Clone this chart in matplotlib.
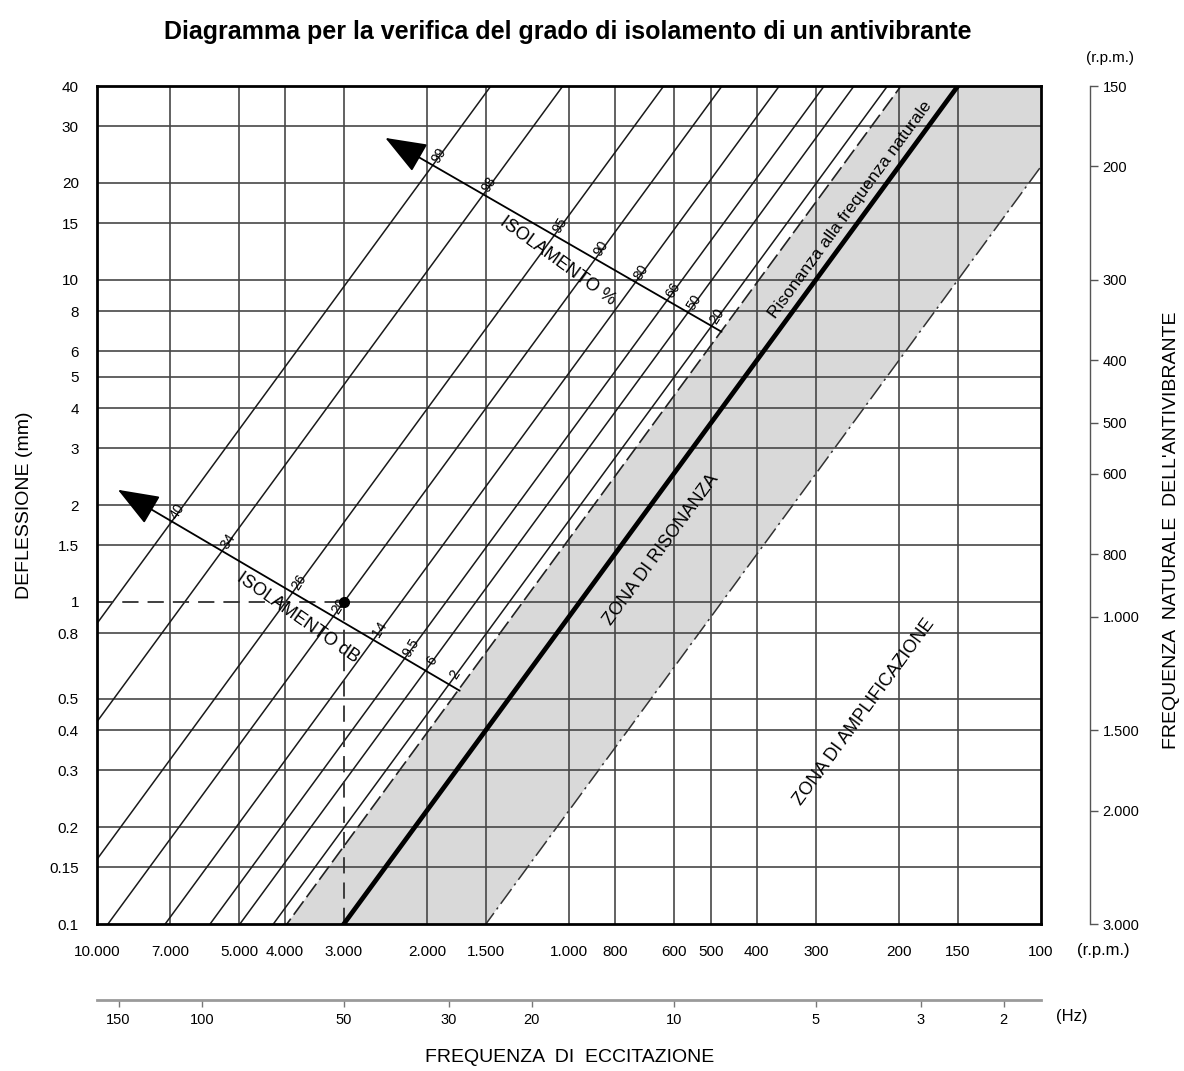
import numpy as np
import matplotlib
matplotlib.use('Agg')
import matplotlib.pyplot as plt

plt.rcParams['font.family'] = ['Liberation Sans Narrow', 'Liberation Sans', 'DejaVu Sans']

# excitation frequency (rpm), axis runs from high to low
rpm_lim = [10000, 100]
rpm_ticks = [10000, 7000, 5000, 4000, 3000, 2000, 1500, 1000, 800, 600, 500, 400, 300, 200, 150, 100]
rpm_labels = ['10.000', '7.000', '5.000', '4.000', '3.000', '2.000', '1.500', '1.000',
              '800', '600', '500', '400', '300', '200', '150', '100']
hz_ticks = [150, 100, 50, 30, 20, 10, 5, 3, 2]

# static deflection (mm)
defl_lim = [0.1, 40]
defl_ticks = [0.1, 0.15, 0.2, 0.3, 0.4, 0.5, 0.8, 1, 1.5, 2, 3, 4, 5, 6, 8, 10, 15, 20, 30, 40]
defl_labels = ['0.1', '0.15', '0.2', '0.3', '0.4', '0.5', '0.8', '1', '1.5', '2', '3', '4',
               '5', '6', '8', '10', '15', '20', '30', '40']

# natural frequency of the mount (rpm), bottom -> top
nat_lim = [3000, 150]
nat_ticks = [150, 200, 300, 400, 500, 600, 800, 1000, 1500, 2000, 3000]
nat_labels = ['150', '200', '300', '400', '500', '600', '800', '1.000', '1.500', '2.000', '3.000']

# ratio f / fn of each isolation line, with its two labels
iso_ratio = [9.76, 6.87, 4.20, 3.16, 2.39, 1.92, 1.66, 1.41]
iso_pct = ['99', '98', '95', '90', '80', '66', '50', '20']
iso_db = ['40', '34', '26', '20', '14', '9.5', '6', '2']
zone_lo_ratio = 1.32   # dashed edge of the resonance zone
zone_hi_ratio = 0.5    # dash-dot edge (amplification side)

# worked example
example_rpm = 3000
example_defl = 1

# fn = K / sqrt(defl)
K = nat_lim[0] * np.sqrt(defl_lim[0])
f_span = np.array([1e6, 1.0])


def defl_line(ratio):
    return (K * ratio / f_span) ** 2


fig = plt.figure(figsize=(11.84, 10.71), dpi=100)
W, H = 1184.0, 1071.0
L, R, T, B = 97, 1041, 86, 924
ax = fig.add_axes([L / W, 1 - B / H, (R - L) / W, (B - T) / H])
ax.set_xscale('log')
ax.set_yscale('log')
ax.set_xlim(rpm_lim)
ax.set_ylim(defl_lim)

ax.set_xticks(rpm_ticks, rpm_labels)
ax.set_yticks(defl_ticks, defl_labels)
ax.minorticks_off()
ax.tick_params(axis='both', length=0, labelsize=11)
ax.tick_params(axis='x', pad=15)
ax.tick_params(axis='y', pad=13)
for s in ax.spines.values():
    s.set_linewidth(2.0)
    s.set_color('black')
    s.set_zorder(6)

grid_kw = dict(color='#474747', lw=1.2, zorder=1)
for v in rpm_ticks[1:-1]:
    if v != example_rpm:
        ax.axvline(v, **grid_kw)
for d in defl_ticks[1:-1]:
    if d != example_defl:
        ax.axhline(d, **grid_kw)
# grid lines through the example point: solid on one side, dashed projection on the other
ax.plot([example_rpm, example_rpm], [example_defl, defl_lim[1]], **grid_kw)
ax.plot([rpm_lim[1], example_rpm], [example_defl, example_defl], **grid_kw)
ax.plot([example_rpm, example_rpm], [defl_lim[0], example_defl], color='#303030', lw=1.3,
        dashes=(9, 5), zorder=3)
ax.plot([rpm_lim[0], example_rpm], [example_defl, example_defl], color='#303030', lw=1.3,
        dashes=(9, 5), zorder=3)
ax.plot(example_rpm, example_defl, 'o', color='black', ms=7, zorder=7)

# resonance zone
ax.fill_between(f_span, defl_line(zone_hi_ratio), defl_line(zone_lo_ratio),
                color='#d9d9d9', lw=0, zorder=0.5)
ax.plot(f_span, defl_line(zone_lo_ratio), color='#222222', lw=1.2, dashes=(10, 3), zorder=2)
ax.plot(f_span, defl_line(zone_hi_ratio), color='#333333', lw=1.1, dashes=(12, 3, 1.5, 3), zorder=2)
ax.plot(f_span, defl_line(1.0), color='black', lw=3.4, zorder=3)

for r in iso_ratio:
    ax.plot(f_span, defl_line(r), color='#1a1a1a', lw=1.1, zorder=2)


def screen_angle(p0, p1):
    (x0, y0), (x1, y1) = ax.transData.transform([p0, p1])
    return np.degrees(np.arctan2(y1 - y0, x1 - x0))


diag_ang = screen_angle((3000, 0.1), (150, 40))


def iso_arrow(tip, end, labels):
    ax.annotate('', xy=tip, xytext=end,
                arrowprops=dict(arrowstyle='-|>,head_length=1.3,head_width=0.5',
                                color='black', lw=1.3, mutation_scale=20,
                                shrinkA=0, shrinkB=0), zorder=5)
    ua, va = np.log10(end)
    du = np.log10(tip[0]) - ua
    dv = np.log10(tip[1]) - va
    ang = screen_angle(end, tip)
    perp = np.radians(ang - 90)
    for r, lab in zip(iso_ratio, labels):
        c = 2 * np.log10(K * r)
        t = (c - 2 * ua - va) / (dv + 2 * du)
        px, py = 10 ** (ua + t * du), 10 ** (va + t * dv)
        ax.annotate(lab, (px, py), xytext=(8.5 * np.cos(perp), 8.5 * np.sin(perp)),
                    textcoords='offset points', ha='center', va='center',
                    rotation=diag_ang + 4, rotation_mode='anchor', fontsize=10,
                    zorder=5, annotation_clip=False)


iso_arrow((2450, 27.6), (475, 6.9), iso_pct)
iso_arrow((9030, 2.23), (1704, 0.53), iso_db)

ax.text(1055, 11.4, 'ISOLAMENTO %', rotation=-36, rotation_mode='anchor',
        ha='center', va='center', fontsize=13, zorder=5)
ax.text(3750, 0.89, 'ISOLAMENTO dB', rotation=-35, rotation_mode='anchor',
        ha='center', va='center', fontsize=13, zorder=5)
ax.text(254, 16.5, 'Risonanza alla frequenza naturale', rotation=diag_ang,
        rotation_mode='anchor', ha='center', va='center', fontsize=12.5, zorder=5)
ax.text(636, 1.45, 'ZONA DI RISONANZA', rotation=diag_ang, rotation_mode='anchor',
        ha='center', va='center', fontsize=13, zorder=5)
ax.text(237, 0.455, 'ZONA DI AMPLIFICAZIONE', rotation=diag_ang, rotation_mode='anchor',
        ha='center', va='center', fontsize=13, zorder=5)

# natural frequency scale on the right
ax_r = ax.twinx()
ax_r.set_yscale('log')
ax_r.set_ylim(nat_lim)
ax_r.set_yticks(nat_ticks, nat_labels)
ax_r.minorticks_off()
for side in ['top', 'bottom', 'left']:
    ax_r.spines[side].set_visible(False)
ax_r.spines['right'].set_position(('axes', (1090 - L) / (R - L)))
ax_r.spines['right'].set_color('#555555')
ax_r.spines['right'].set_linewidth(1.0)
ax_r.tick_params(axis='y', direction='out', length=6, width=1.0, color='#555555',
                 labelsize=10.5, pad=3)

# excitation frequency in Hz below
ax_hz = fig.add_axes([L / W, 1 - 1000 / H, (R - L) / W, 0.0005])
ax_hz.set_xscale('log')
ax_hz.set_xlim(rpm_lim)
ax_hz.set_xticks([h * 60 for h in hz_ticks], [str(h) for h in hz_ticks])
ax_hz.minorticks_off()
ax_hz.set_yticks([])
ax_hz.patch.set_visible(False)
for side in ['top', 'left', 'right']:
    ax_hz.spines[side].set_visible(False)
ax_hz.spines['bottom'].set_color('#9a9a9a')
ax_hz.spines['bottom'].set_linewidth(2.0)
ax_hz.tick_params(axis='x', direction='out', length=5, width=1.0, color='#777777',
                  labelsize=10.5, pad=4)

fig.text(568 / W, 1 - 32 / H, 'Diagramma per la verifica del grado di isolamento di un antivibrante',
         ha='center', va='center', fontsize=18, fontweight='bold')
fig.text(1110 / W, 1 - 58 / H, '(r.p.m.)', ha='center', va='center', fontsize=11)
fig.text(1103 / W, 1 - 951 / H, '(r.p.m.)', ha='center', va='center', fontsize=12)
fig.text(1072 / W, 1 - 1017 / H, '(Hz)', ha='center', va='center', fontsize=12)
fig.text(570 / W, 1 - 1058 / H, 'FREQUENZA  DI  ECCITAZIONE', ha='center', va='center', fontsize=14)
fig.text(25 / W, 1 - 505 / H, 'DEFLESSIONE (mm)', ha='center', va='center', rotation=90, fontsize=14)
fig.text(1172 / W, 1 - 530 / H, "FREQUENZA  NATURALE  DELL'ANTIVIBRANTE", ha='center', va='center',
         rotation=90, fontsize=14)

fig.savefig('out.png', dpi=100)
